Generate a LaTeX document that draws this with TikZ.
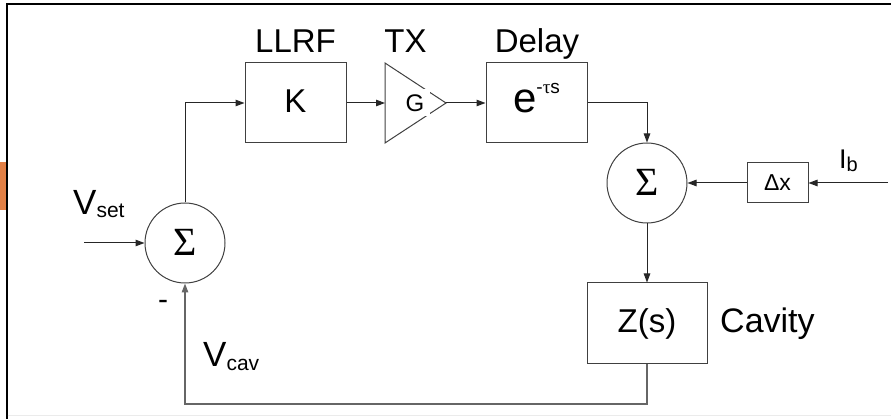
\documentclass[tikz,border=0pt]{standalone}
\usepackage{fontspec}
\setmainfont{Liberation Sans}
\newfontfamily\seriffont{Liberation Serif}
\usetikzlibrary{arrows.meta}
\definecolor{orng}{RGB}{226,128,70}
\begin{document}
\begin{tikzpicture}[x=1pt,y=-1pt,
  blk/.style={draw=black!75, line width=1pt, minimum width=101pt, minimum height=80pt,
    inner sep=0pt, text height=19.4pt, text depth=0pt, font=\fontsize{33}{36}\selectfont},
  sumnode/.style={circle, draw=black!75, line width=1pt, minimum size=80pt, inner sep=0pt,
    text height=26pt, text depth=0pt, font=\seriffont\fontsize{40}{44}\selectfont},
  conn/.style={draw=black!85, line width=1pt, -{Triangle[length=9pt,width=6.5pt]}},
  lbl/.style={inner sep=0pt, font=\fontsize{33}{36}\selectfont}]
\useasboundingbox (0,0) rectangle (891,419);
% page decorations
\fill[orng] (0,162) rectangle (6,210);
\draw[black, line width=2pt] (6.7,419) -- (6.7,4) -- (891,4);
\draw[black!8, line width=1pt] (7.7,415.5) -- (891,415.5);
% blocks
\node[sumnode] (s1) at (185,243) {Σ};
\node[blk] (k) at (295.5,103) {K};
\coordinate (txa) at (385,63);
\coordinate (txb) at (385,143);
\coordinate (txtip) at (446,103);
\coordinate (txin) at (385,103);
\draw[black!75, line width=1pt] (txa) -- (txtip) -- (txb) -- cycle;
\node[fill=white, minimum width=30pt, minimum height=27pt, inner sep=0pt,
  text height=17.4pt, text depth=0pt, font=\fontsize{24}{26}\selectfont] (g) at (415,103) {G};
\node[blk] (d) at (536.5,103) {\fontsize{42}{44}\selectfont e\raisebox{19pt}{\fontsize{19}{20}\selectfont -{\seriffont τ}s}};
\node[sumnode] (s2) at (647,183) {Σ};
\node[blk, minimum width=61pt, minimum height=40pt, text height=15.4pt,
  font=\fontsize{23}{25}\selectfont] (dx) at (777.5,183) {Δx};
\node[blk, minimum width=120pt, font=\fontsize{33}{36}\selectfont] (z) at (647,323) {Z(s)};
% helper points
\coordinate (vin) at (84,243);
\coordinate (ibin) at (888,183);
\coordinate (c1) at (185,103);
\coordinate (c2) at (647,103);
\coordinate (c3) at (647,404);
\coordinate (c4) at (185,404);
% connectors
\draw[conn] (vin) -- (s1.west);
\draw[conn] (s1.north) -- (c1) -- (k.west);
\draw[conn] (k.east) -- (txin);
\draw[conn] (txtip) -- (d.west);
\draw[conn] (d.east) -- (c2) -- (s2.north);
\draw[conn] (ibin) -- (dx.east);
\draw[conn] (dx.west) -- (s2.east);
\draw[conn] (s2.south) -- (z.north);
\draw[conn, draw=black!60, line width=1.3pt] (z.south) -- (c3) -- (c4) -- (s1.south);
% labels
\node[lbl, anchor=base] (llrf) at (295.5,53) {LLRF};
\node[lbl, anchor=base] (tx) at (405.5,53) {TX};
\node[lbl, anchor=base] (delay) at (537,53) {Delay};
\node[lbl, anchor=base west, font=\fontsize{35}{38}\selectfont] (vset) at (73,214.5)
  {V\raisebox{-3.5pt}{\fontsize{21}{22}\selectfont set}};
\node[lbl, anchor=base west, font=\fontsize{35}{38}\selectfont] (vcav) at (203,366.7)
  {V\raisebox{-4pt}{\fontsize{21}{22}\selectfont cav}};
\node[lbl, anchor=base west, font=\fontsize{27}{29}\selectfont] (ib) at (839,168.3)
  {I\raisebox{-3.4pt}{\fontsize{20}{21}\selectfont b}};
\node[lbl, anchor=base west, font=\fontsize{34}{36}\selectfont] (cav) at (720,333) {Cavity};
\node[lbl, font=\fontsize{30}{32}\selectfont] (minus) at (163,305) {-};
\end{tikzpicture}
\end{document}
